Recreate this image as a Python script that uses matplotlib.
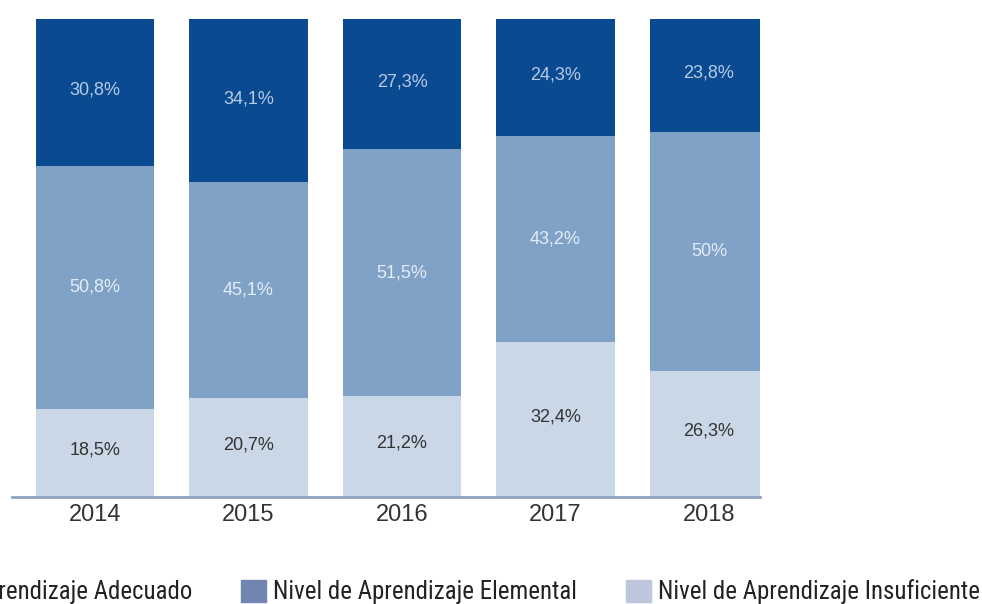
import matplotlib
matplotlib.use('Agg')
import matplotlib.pyplot as plt
from matplotlib import font_manager
from matplotlib.patches import Patch

years = ['2014', '2015', '2016', '2017', '2018']
insuficiente = [18.5, 20.7, 21.2, 32.4, 26.3]
elemental = [50.8, 45.1, 51.5, 43.2, 50.0]
adecuado = [30.8, 34.1, 27.3, 24.3, 23.8]

legend_labels = ['Nivel de Aprendizaje Adecuado',
                 'Nivel de Aprendizaje Elemental',
                 'Nivel de Aprendizaje Insuficiente']

c_dark = '#0a4a91'
c_mid = '#7fa2c6'
c_light = '#c9d7e6'

installed = {f.name for f in font_manager.fontManager.ttflist}


def pick(*names):
    for n in names:
        if n in installed:
            return n
    return 'DejaVu Sans'


main_font = pick('Liberation Sans', 'Arimo', 'DejaVu Sans')
narrow_font = pick('Liberation Sans Narrow', 'Roboto Condensed', 'Open Sans Condensed',
                   'DejaVu Sans Condensed', 'Noto Sans', 'Inter')


def pct(v):
    return f'{v:g}'.replace('.', ',') + '%'


fig = plt.figure(figsize=(9.82, 6.04), dpi=100)
ax = fig.add_axes([12 / 982, 107 / 604, 748 / 982, 478 / 604])

x = list(range(len(years)))
w = 0.77
base2 = insuficiente
base3 = [a + b for a, b in zip(insuficiente, elemental)]
ax.bar(x, insuficiente, w, color=c_light)
ax.bar(x, elemental, w, bottom=base2, color=c_mid)
ax.bar(x, adecuado, w, bottom=base3, color=c_dark)

lbl = dict(ha='center', va='center', fontsize=13, family=main_font)
for i in x:
    ax.text(i, insuficiente[i] / 2 + 0.6, pct(insuficiente[i]), color='#333333', **lbl)
    ax.text(i, base2[i] + elemental[i] / 2, pct(elemental[i]), color='#e4edf7', **lbl)
    ax.text(i, base3[i] + adecuado[i] / 2 + 0.5, pct(adecuado[i]), color='#b5cbe6', **lbl)

ax.set_xlim(-0.541, 4.332)
ax.set_ylim(0, 100)
ax.set_yticks([])
ax.set_xticks(x)
ax.set_xticklabels(years, fontsize=17, color='#333333', family=main_font)
ax.tick_params(axis='x', length=0, pad=5)
for s in ['top', 'right', 'left']:
    ax.spines[s].set_visible(False)
ax.spines['bottom'].set_color('#8fa3bf')
ax.spines['bottom'].set_linewidth(2)

# size the legend font so one label is about 303 px wide
renderer = fig.canvas.get_renderer()
probe = fig.text(0, 0, legend_labels[1], family=narrow_font, fontsize=20)
probe_w = probe.get_window_extent(renderer).width
probe.remove()
leg_size = 20 * 303 / probe_w
leg_px = leg_size * 100 / 72

handles = [Patch(color='#1d4b8f'), Patch(color='#7086b0'), Patch(color='#bdc6dc')]
fig.legend(handles, legend_labels, loc='center right', bbox_to_anchor=(980 / 982, 12 / 604),
           ncol=3, frameon=False, borderpad=0, borderaxespad=0,
           handlelength=25 / leg_px, handleheight=25 / leg_px,
           handletextpad=7 / leg_px, columnspacing=49 / leg_px,
           prop={'family': narrow_font, 'size': leg_size},
           labelcolor='#222222')

fig.savefig('out.png', dpi=100)
